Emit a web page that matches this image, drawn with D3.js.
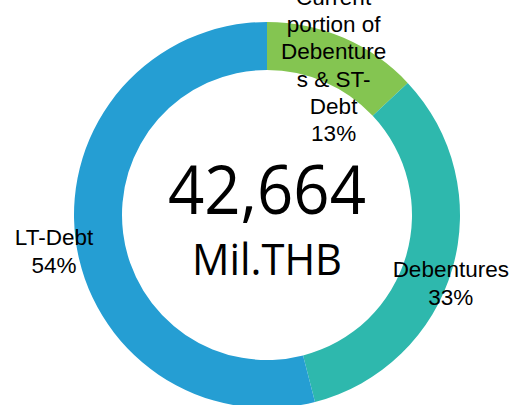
<!DOCTYPE html>
<html><head><meta charset="utf-8">
<script src="https://cdn.jsdelivr.net/npm/d3@7"></script>
<style>body{margin:0;background:#fff}svg{display:block}</style>
</head><body>
<svg id="c" width="518" height="405"></svg>
<script>
const categories = ["Current portion of Debentures & ST-Debt", "Debentures", "LT-Debt"];
const values = [13, 33, 54];
const labelLines = [["Current", "portion of", "Debenture", "s & ST-", "Debt"], ["Debentures"], ["LT-Debt"]];
const colors = ["#84C551", "#2EB8AD", "#259ED3"];
const totalLabel = "42,664";
const unitLabel = "Mil.THB";

const svg = d3.select("#c");
const cx = 267, cy = 215, rOuter = 193, rInner = 145;
const g = svg.append("g").attr("transform", `translate(${cx},${cy})`);
const pie = d3.pie().sort(null).value(d => d);
const arcs = pie(values);
const arc = d3.arc().innerRadius(rInner).outerRadius(rOuter);
g.selectAll("path.slice").data(arcs).join("path")
  .attr("class", "slice")
  .attr("d", arc)
  .attr("fill", (d, i) => colors[i]);

// label placement (best-fit style): radius and angular nudges per slice
const labelRadius = [164, 196, 216];
const labelAngleShift = [0.01, 0.072, -0.042];
const lineH = 27.3;
arcs.forEach((d, i) => {
  const a = (d.startAngle + d.endAngle) / 2 + labelAngleShift[i];
  const x = labelRadius[i] * Math.sin(a);
  const y = -labelRadius[i] * Math.cos(a);
  const lines = labelLines[i].concat([Math.round(d.value) + "%"]);
  const t = g.append("text")
    .attr("text-anchor", "middle")
    .attr("font-family", "Liberation Sans, Arial, sans-serif")
    .attr("font-size", 22.5)
    .attr("fill", "#000");
  const y0 = y - (lines.length - 1) * lineH / 2;
  lines.forEach((ln, j) => {
    t.append("tspan").attr("x", x).attr("y", y0 + j * lineH).attr("dy", "0.35em").text(ln);
  });
});

g.append("text").attr("text-anchor", "middle").attr("x", 0).attr("y", -1)
  .attr("font-family", "Open Sans, sans-serif").attr("font-size", 68)
  .attr("textLength", 198).attr("lengthAdjust", "spacingAndGlyphs")
  .attr("fill", "#000").text(totalLabel);
g.append("text").attr("text-anchor", "middle").attr("x", 0).attr("y", 60)
  .attr("font-family", "Open Sans, sans-serif").attr("font-size", 44)
  .attr("textLength", 150).attr("lengthAdjust", "spacingAndGlyphs")
  .attr("fill", "#000").text(unitLabel);
</script>
</body></html>
